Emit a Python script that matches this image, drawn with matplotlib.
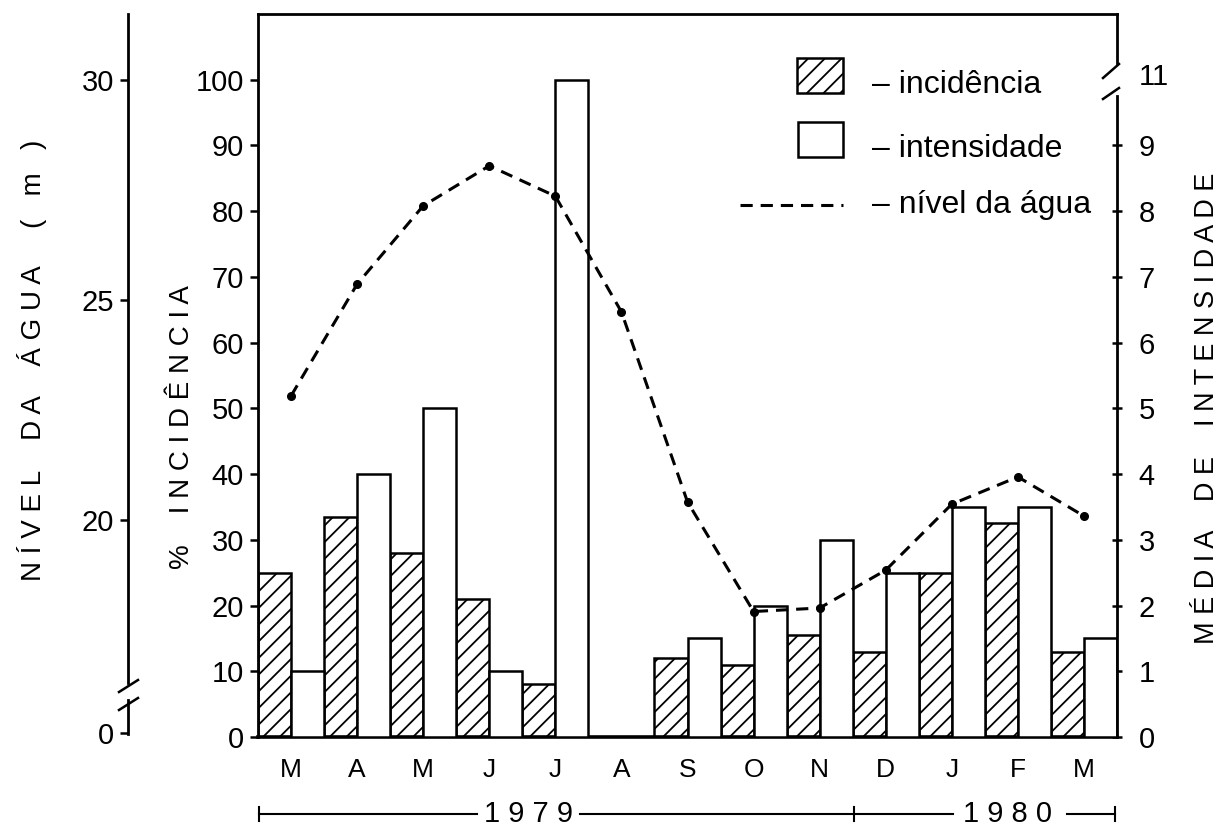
import numpy as np
import matplotlib.pyplot as plt
from matplotlib.patches import Rectangle
from matplotlib.lines import Line2D
from matplotlib.transforms import blended_transform_factory

plt.rcParams['font.family'] = ['Liberation Sans', 'DejaVu Sans']
plt.rcParams['hatch.linewidth'] = 1.3

# Dados (mar/1979 a mar/1980)
meses = ['M', 'A', 'M', 'J', 'J', 'A', 'S', 'O', 'N', 'D', 'J', 'F', 'M']
incidencia = [25, 33.5, 28, 21, 8, 0, 12, 11, 15.5, 13, 25, 32.5, 13]      # %
intensidade = [1.0, 4.0, 5.0, 1.0, 11, 0, 1.5, 2.0, 3.0, 2.5, 3.5, 3.5, 1.5]  # média
nivel_agua = [22.82, 25.36, 27.14, 28.05, 27.36, 24.73, 20.41,
              17.92, 18.0, 18.86, 20.36, 20.98, 20.09]                      # m

W, H = 1225, 831
fig = plt.figure(figsize=(W / 100, H / 100), dpi=100)


def fx(px):
    return px / W


def fy(py):
    return 1 - py / H


def fline(xs, ys, **kw):
    # linha decorativa em pixels da figura
    fig.add_artist(Line2D([fx(v) for v in xs], [fy(v) for v in ys],
                          color='black', transform=fig.transFigure, **kw))


left, right, top, bottom = 258, 1117, 14, 737
ax = fig.add_axes([fx(left), fy(bottom), fx(right) - fx(left), fy(top) - fy(bottom)])
x = np.arange(len(meses))

# incidencia (barras hachuradas)
ax.bar(x - 0.25, incidencia, width=0.5, facecolor='white', edgecolor='black',
       hatch='//', linewidth=1.8, zorder=2)
ax.set_xlim(-0.5, 12.5)
ax.set_ylim(0, 110)
ax.set_yticks(np.arange(0, 101, 10))
ax.set_xticks(x)
ax.set_xticklabels(meses, fontsize=19)
ax.tick_params(axis='x', length=0, pad=15)
ax.tick_params(axis='y', direction='out', length=6, width=1.8, labelsize=21, pad=4)
ax.spines['right'].set_visible(False)
for s in ['left', 'top', 'bottom']:
    ax.spines[s].set_linewidth(2)
ax.spines['bottom'].set_linewidth(2.6)

# intensidade (barras brancas) - eixo da direita, quebrado entre 9 e 11
ax_r = ax.twinx()
ax_r.set_ylim(0, 11)
inten_desenho = np.where(np.array(intensidade) > 9.5, 10.0, intensidade)
ax_r.bar(x + 0.25, inten_desenho, width=0.5, facecolor='white', edgecolor='black',
         linewidth=1.8, zorder=2)
for s in ['left', 'top', 'bottom']:
    ax_r.spines[s].set_visible(False)
ax_r.spines['right'].set_linewidth(2)
ax_r.spines['right'].set_bounds(0, 9.75)
ax_r.set_yticks(list(range(10)) + [10.08])
ax_r.set_yticklabels([str(i) for i in range(10)] + ['11'])
ax_r.tick_params(axis='y', direction='inout', length=7, width=1.8, labelsize=21, pad=12)
ax_r.yaxis.get_major_ticks()[-1].tick2line.set_visible(False)
fline([right, right], [63, top], lw=2)
fline([1103, 1119], [99, 88], lw=1.8)
fline([1103, 1119], [78, 64], lw=1.8)

# nivel da agua - eixo externo da esquerda (130 px fora do eixo principal)
ax_w = ax.twinx()
ax_w.set_ylim(30 - 657 / 44, 30 + 66 / 44)
ax_w.plot(x, nivel_agua, color='black', lw=2.2, linestyle=(0, (4, 2.6)),
          marker='o', markersize=5.5, zorder=5)
for s in ['right', 'top', 'bottom']:
    ax_w.spines[s].set_visible(False)
ax_w.yaxis.tick_left()
ax_w.spines['left'].set_visible(True)
ax_w.spines['left'].set_position(('outward', 130 * 0.72))
ax_w.spines['left'].set_linewidth(2)
ax_w.spines['left'].set_bounds(30 - 603 / 44, 31.5)
ax_w.set_yticks([15.15, 20, 25, 30])
ax_w.set_yticklabels(['0', '20', '25', '30'])
ax_w.tick_params(axis='y', direction='out', length=6, width=1.8, labelsize=21, pad=4)
fline([128, 128], [700, 734], lw=2)
fline([119, 138], [692, 680], lw=1.8)
fline([119, 138], [710, 698], lw=1.8)

# titulos dos eixos
fig.text(fx(32), fy(360), 'N Í V E L    D A    Á G U A     (   m   )', rotation=90,
         ha='center', va='center', fontsize=20)
fig.text(fx(182), fy(427), '%    I N C I D Ê N C I A', rotation=90,
         ha='center', va='center', fontsize=20)
fig.text(fx(1207), fy(408), 'M É D I A    D E    I N T E N S I D A D E', rotation=90,
         ha='center', va='center', fontsize=19.5)

# legenda
fig.add_artist(Rectangle((fx(797), fy(93)), fx(843) - fx(797), fy(58) - fy(93),
                         transform=fig.transFigure, facecolor='white',
                         edgecolor='black', hatch='//', linewidth=1.8))
fig.add_artist(Rectangle((fx(798), fy(157)), fx(843) - fx(798), fy(122) - fy(157),
                         transform=fig.transFigure, facecolor='white',
                         edgecolor='black', linewidth=1.8))
fline([740, 843], [205, 205], lw=2.2, linestyle=(0, (4, 2.6)))
for ty, txt in [(93, '– incidência'), (157, '– intensidade'), (213, '– nível da água')]:
    fig.text(fx(872), fy(ty), txt, ha='left', va='baseline', fontsize=23)

# anos
yb = -77 / 723
tr = blended_transform_factory(ax.transData, ax.transAxes)
for xs in [(-0.48, 2.81), (4.37, 10.02), (11.74, 12.47)]:
    ax.plot(xs, [yb, yb], color='black', lw=1.5, transform=tr, clip_on=False)
for xc in [-0.48, 8.52, 12.47]:
    ax.plot([xc, xc], [yb - 0.009, yb + 0.009], color='black', lw=1.5,
            transform=tr, clip_on=False)
ax.text(3.59, yb, '1 9 7 9', transform=tr, ha='center', va='center', fontsize=21)
ax.text(10.85, yb, '1 9 8 0', transform=tr, ha='center', va='center', fontsize=21)

fig.savefig('out.png', dpi=100, facecolor='white')
